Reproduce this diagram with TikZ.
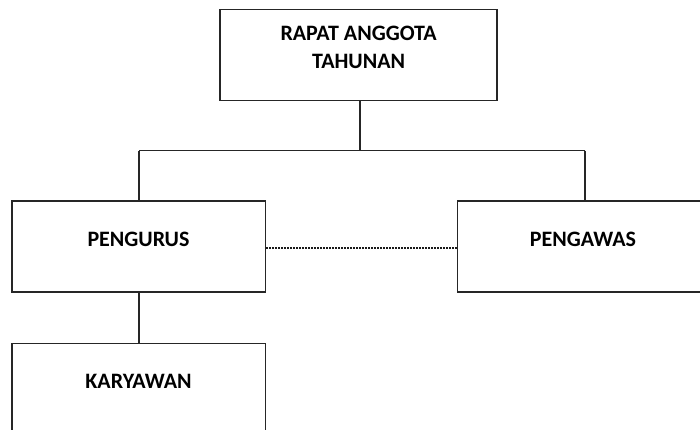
\documentclass[tikz,border=0pt]{standalone}
\usepackage{fontspec}
\setmainfont{Carlito}
\begin{document}
\begin{tikzpicture}[x=1pt,y=-1pt,
  box/.style={draw=black!85,line width=1.3pt,rectangle,inner sep=0pt},
  lbl/.style={font=\bfseries\fontsize{22}{28}\selectfont,text=black,inner sep=0pt,align=center},
  conn/.style={draw=black!85,line width=1.3pt},
  dotline/.style={draw=black!90,line width=2pt,dash pattern=on 1.6pt off 1.4pt}]
\useasboundingbox (0,0) rectangle (700,430);
\clip (0,0) rectangle (700,430);
\node[box,minimum width=277pt,minimum height=91pt] (rat) at (358.6,55.2) {};
\node[lbl] (ratT) at (358.6,47) {RAPAT ANGGOTA\\TAHUNAN};
\node[box,minimum width=253.7pt,minimum height=91pt] (pengurus) at (138.9,246.5) {};
\node[lbl] (pengurusT) at (138.5,239.5) {PENGURUS};
\node[box,minimum width=260pt,minimum height=91pt] (pengawas) at (587.7,246.5) {};
\node[lbl] (pengawasT) at (583,239.5) {PENGAWAS};
\node[box,minimum width=253.7pt,minimum height=91pt] (karyawan) at (138.9,388.8) {};
\node[lbl] (karyawanT) at (138.5,381.5) {KARYAWAN};
\coordinate (hub) at (360,150.7);
\coordinate (hl) at (139,150.7);
\coordinate (hr) at (585,150.7);
\draw[conn] (rat.south -| hub) -- (hub);
\draw[conn] (hl) -- (hr);
\draw[conn] (hl) -- (hl |- pengurus.north);
\draw[conn] (hr) -- (hr |- pengawas.north);
\draw[conn] (pengurus.south -| hl) -- (karyawan.north -| hl);
\draw[dotline] ([yshift=-1.5pt]pengurus.east) -- ([yshift=-1.5pt]pengawas.west);
\end{tikzpicture}
\end{document}
